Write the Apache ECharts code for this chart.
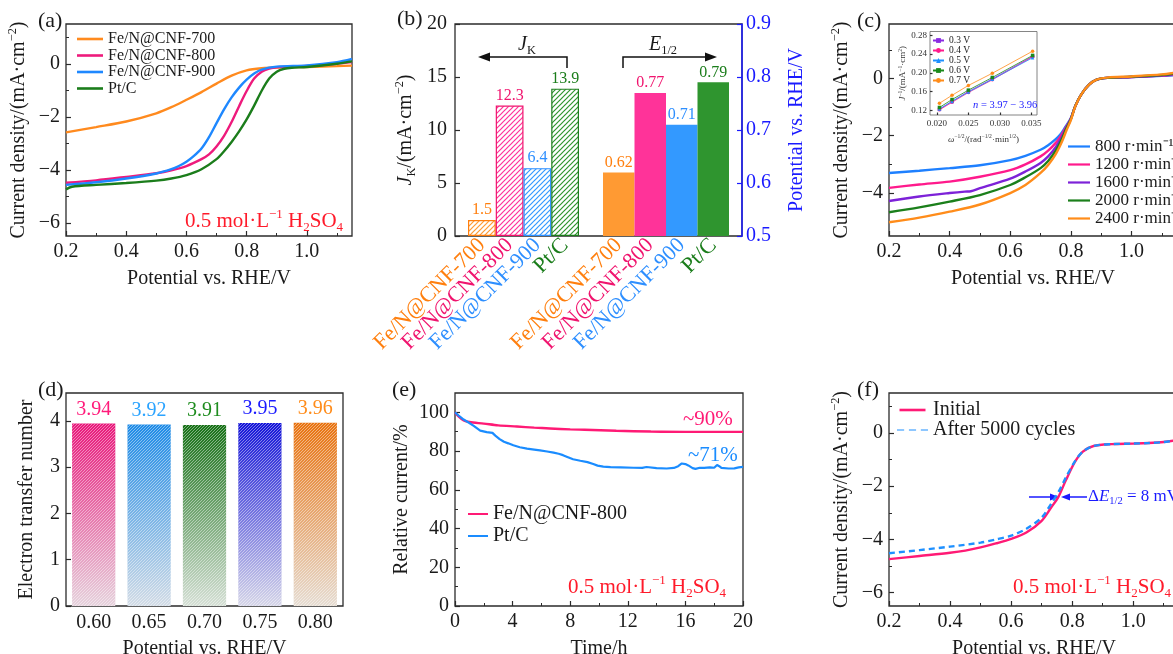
<!DOCTYPE html>
<html>
<head>
<meta charset="utf-8">
<script src="https://cdn.jsdelivr.net/npm/echarts@6/dist/echarts.min.js"></script>
<style>
  html, body { margin: 0; padding: 0; background: #fff; }
  #chart { width: 1173px; height: 654px; }
</style>
</head>
<body>
<div id="chart"></div>
<script>
const FONT = '"Liberation Serif", "Times New Roman", serif'
const TXT = '#1a1a1a'
const AX = '#2b2b2b'

// (a) LSV of the catalysts, [potential V, current density mA/cm2]
const aNames = ['Fe/N@CNF-700', 'Fe/N@CNF-800', 'Fe/N@CNF-900', 'Pt/C']
const aCnf700 = [[0.2,-2.59],[0.3,-2.39],[0.4,-2.18],[0.5,-1.87],[0.55,-1.64],[0.6,-1.36],[0.65,-1.07],[0.7,-0.75],[0.75,-0.45],[0.8,-0.25],[0.85,-0.17],[0.9,-0.14],[1.0,-0.12],[1.1,-0.09],[1.15,-0.07]]
const aCnf800 = [[0.2,-4.49],[0.3,-4.4],[0.4,-4.27],[0.5,-4.13],[0.55,-4.02],[0.6,-3.86],[0.65,-3.6],[0.675,-3.42],[0.7,-3.12],[0.725,-2.72],[0.75,-2.2],[0.775,-1.6],[0.8,-1.03],[0.825,-0.56],[0.85,-0.3],[0.875,-0.18],[0.9,-0.13],[1.0,-0.08],[1.1,0.0],[1.15,0.06]]
const aCnf900 = [[0.2,-4.57],[0.3,-4.47],[0.4,-4.33],[0.5,-4.14],[0.55,-3.98],[0.575,-3.86],[0.6,-3.7],[0.625,-3.48],[0.65,-3.2],[0.675,-2.77],[0.7,-2.24],[0.725,-1.72],[0.75,-1.27],[0.775,-0.9],[0.8,-0.6],[0.825,-0.37],[0.85,-0.22],[0.9,-0.11],[1.0,-0.06],[1.1,0.06],[1.15,0.18]]
const aPtC = [[0.2,-4.74],[0.22,-4.64],[0.3,-4.57],[0.4,-4.5],[0.5,-4.41],[0.55,-4.33],[0.6,-4.2],[0.65,-3.98],[0.7,-3.6],[0.725,-3.3],[0.75,-2.95],[0.775,-2.55],[0.8,-2.1],[0.825,-1.58],[0.85,-1.02],[0.875,-0.56],[0.9,-0.3],[0.925,-0.19],[0.95,-0.15],[1.0,-0.12],[1.1,0.0],[1.15,0.09]]

// (b) kinetic current and half-wave potential
const bNames = ['Fe/N@CNF-700', 'Fe/N@CNF-800', 'Fe/N@CNF-900', 'Pt/C']
const bJk = [1.5, 12.3, 6.4, 13.9]
const bE12 = [0.62, 0.77, 0.71, 0.79]

// (c) LSV at different rotation rates
const cNames = ['800 r·min⁻¹', '1200 r·min⁻¹', '1600 r·min⁻¹', '2000 r·min⁻¹', '2400 r·min⁻¹']
const c800 = [[0.2,-3.3],[0.3,-3.22],[0.4,-3.13],[0.5,-3.03],[0.6,-2.85],[0.65,-2.7],[0.7,-2.49],[0.725,-2.33],[0.75,-2.12],[0.765,-1.96],[0.78,-1.72],[0.8,-1.38],[0.815,-0.95],[0.835,-0.55],[0.86,-0.22],[0.885,-0.04],[0.92,0.02],[1.0,0.05],[1.1,0.09],[1.15,0.12]]
const c1200 = [[0.2,-3.82],[0.3,-3.7],[0.4,-3.6],[0.5,-3.43],[0.6,-3.2],[0.65,-3.0],[0.7,-2.72],[0.725,-2.52],[0.75,-2.25],[0.77,-1.95],[0.785,-1.68],[0.8,-1.4],[0.815,-0.95],[0.835,-0.55],[0.86,-0.22],[0.885,-0.04],[0.92,0.02],[1.0,0.05],[1.1,0.1],[1.15,0.14]]
const c1600 = [[0.2,-4.28],[0.3,-4.12],[0.4,-4.0],[0.45,-3.95],[0.47,-3.94],[0.5,-3.83],[0.6,-3.5],[0.65,-3.25],[0.7,-2.95],[0.725,-2.72],[0.75,-2.4],[0.77,-2.05],[0.785,-1.72],[0.8,-1.4],[0.815,-0.95],[0.835,-0.55],[0.86,-0.22],[0.885,-0.04],[0.92,0.02],[1.0,0.05],[1.1,0.11],[1.15,0.16]]
const c2000 = [[0.2,-4.67],[0.3,-4.5],[0.4,-4.3],[0.5,-4.07],[0.6,-3.72],[0.65,-3.45],[0.7,-3.13],[0.725,-2.88],[0.75,-2.52],[0.77,-2.12],[0.785,-1.75],[0.8,-1.42],[0.815,-0.95],[0.835,-0.55],[0.86,-0.22],[0.885,-0.04],[0.92,0.02],[1.0,0.06],[1.1,0.12],[1.15,0.18]]
const c2400 = [[0.2,-5.02],[0.3,-4.86],[0.4,-4.65],[0.5,-4.4],[0.6,-4.0],[0.65,-3.72],[0.7,-3.3],[0.725,-3.02],[0.75,-2.64],[0.77,-2.22],[0.786,-1.8],[0.8,-1.45],[0.815,-0.96],[0.835,-0.55],[0.86,-0.22],[0.885,-0.04],[0.92,0.03],[1.0,0.07],[1.1,0.14],[1.15,0.21]]

// (c) inset: Koutecky-Levich plot
const insetNames = ['0.3 V', '0.4 V', '0.5 V', '0.6 V', '0.7 V']
const insetX = [0.0204, 0.0224, 0.0250, 0.0288, 0.0352]
const inset03 = [0.122, 0.139, 0.160, 0.187, 0.235]
const inset04 = [0.121, 0.137, 0.158, 0.185, 0.234]
const inset05 = [0.123, 0.139, 0.159, 0.186, 0.232]
const inset06 = [0.126, 0.143, 0.163, 0.190, 0.237]
const inset07 = [0.135, 0.152, 0.173, 0.199, 0.246]

// (d) electron transfer number
const dPotentials = ['0.60', '0.65', '0.70', '0.75', '0.80']
const dElectrons = [3.94, 3.92, 3.91, 3.95, 3.96]

// (e) chronoamperometry, [time h, relative current %]
const eCnf800 = [[0,100],[0.3,97.5],[0.6,95.8],[1,95],[2,94.2],[3,93.3],[4.3,92.7],[5.5,92.1],[6.6,91.7],[8,91.2],[9,91],[11.2,90.5],[13.6,90.1],[16,89.9],[18,89.9],[20,89.9]]
const ePtC = [[0,100],[0.3,98],[0.6,96.3],[1,94.5],[1.3,93],[1.75,90.6],[2.2,89.8],[2.6,89.4],[2.8,88],[3.1,86.2],[3.4,84.8],[3.7,84],[4.05,83],[4.5,82],[5,81.3],[5.5,80.8],[5.9,80.4],[6.4,79.8],[6.85,79.2],[7.2,78.6],[7.5,77.9],[7.8,77],[8.2,75.8],[8.7,75],[9.2,74.3],[9.6,73.3],[9.9,72.5],[10.3,72],[10.8,71.7],[11.5,71.6],[12.4,71.4],[13,71.3],[13.3,71.8],[13.4,71],[14,71.2],[14.7,71],[15.2,71.3],[15.5,72.2],[15.75,73.6],[16.0,73.3],[16.2,72.6],[16.5,71.2],[16.7,70.8],[17,71.4],[17.3,71.3],[17.7,71.6],[18,71.4],[18.2,72.8],[18.35,72.2],[18.5,71.3],[19,71.0],[19.4,71.1],[19.7,71.6],[20,71.8]]

// (f) accelerated durability test
const fInitial = [[0.2,-4.74],[0.3,-4.62],[0.4,-4.5],[0.45,-4.42],[0.5,-4.3],[0.55,-4.15],[0.6,-3.98],[0.65,-3.74],[0.7,-3.3],[0.73,-2.82],[0.755,-2.4],[0.78,-1.76],[0.81,-1.07],[0.835,-0.7],[0.87,-0.49],[0.93,-0.42],[1.0,-0.4],[1.05,-0.38],[1.1,-0.34],[1.15,-0.26]]
const fAfter = [[0.2,-4.52],[0.3,-4.4],[0.4,-4.27],[0.5,-4.12],[0.55,-4.0],[0.6,-3.86],[0.65,-3.6],[0.7,-3.18],[0.73,-2.68],[0.755,-2.22],[0.78,-1.66],[0.81,-1.05],[0.835,-0.7],[0.87,-0.49],[0.93,-0.42],[1.0,-0.4],[1.05,-0.38],[1.1,-0.34],[1.15,-0.26]]

// colours
const aColors = ['#ff8a1e', '#ee1a7c', '#1e88ff', '#1b7d1b']
const bText = ['#ff7f0e', '#f0146e', '#2e8fff', '#1b7d1b']
const bFill = ['#ff9a33', '#ff3399', '#3399ff', '#2f952f']
const cColors = ['#1e80ff', '#ff1a8c', '#7d22d8', '#1b7f1b', '#ff8c1a']
const insetColors = ['#8a2be2', '#ff1a8c', '#1e90ff', '#1b8a1b', '#ff8c1a']
const insetSymbols = ['rect', 'circle', 'triangle', 'rect', 'circle']
const dTop = ['#e8177a', '#1e8be6', '#167016', '#1414d8', '#e8720f']
const dPale = ['#e6d3dd', '#d3dce6', '#d6e0d6', '#d6d6e8', '#e6ddd3']
const dText = ['#ff1a7a', '#2aa3ff', '#1e8c1e', '#1a1aff', '#ff8c1a']
const RED = '#ff1a2a'
const BLUE = '#1a1aff'

const fmtNeg = v => (v < 0 ? '−' : '') + Math.abs(v)
const fmt1 = v => v.toFixed(1)

function rich (size, color) {
  return {
    n: { fontFamily: FONT, fontSize: size, color, lineHeight: size * 1.2 },
    i: { fontFamily: FONT, fontSize: size, color, fontStyle: 'italic', lineHeight: size * 1.2 },
    sub: { fontFamily: FONT, fontSize: size * 0.62, color, verticalAlign: 'bottom', lineHeight: size * 0.75 },
    sup: { fontFamily: FONT, fontSize: size * 0.62, color, verticalAlign: 'top', lineHeight: size * 0.75 }
  }
}

const xAxes = []
const yAxes = []
// value axis with inside ticks; optional minor ticks drawn by an overlay axis
function valueAxis (list, o) {
  const color = o.color || AX
  list.push({
    type: 'value', gridIndex: o.grid, position: o.pos, min: o.min, max: o.max,
    axisLine: { show: !!o.line, onZero: false, lineStyle: { color, width: 1.5 } },
    axisTick: { show: true, inside: true, length: o.tick || 5, customValues: o.major, lineStyle: { color, width: 1.2 } },
    axisLabel: { customValues: o.major, formatter: o.fmt, fontFamily: FONT, fontSize: o.fs || 20, color: o.color || TXT, margin: o.margin == null ? 6 : o.margin },
    splitLine: { show: false },
    name: o.name, nameLocation: 'middle', nameGap: o.nameGap,
    nameTextStyle: { rich: o.nameRich },
    startValue: o.startValue
  })
  const idx = list.length - 1
  if (o.minor) {
    list.push({
      type: 'value', gridIndex: o.grid, position: o.pos, min: o.min, max: o.max,
      axisLine: { show: false, onZero: false },
      axisTick: { show: true, inside: true, length: (o.tick || 5) * 0.6, customValues: o.minor, lineStyle: { color, width: 1 } },
      axisLabel: { show: false }, splitLine: { show: false }
    })
  }
  return idx
}

const frame = { show: true, borderColor: '#2b2b2b', borderWidth: 1.3, outerBoundsMode: 'none' }
const grid = [
  Object.assign({ left: 66, top: 24, width: 286, height: 212 }, frame),
  Object.assign({ left: 455, top: 24, width: 287, height: 212 }, frame),
  { left: 468, top: 24, width: 111, height: 212, outerBoundsMode: 'none' },
  { left: 603, top: 24, width: 126, height: 212, outerBoundsMode: 'none' },
  Object.assign({ left: 889, top: 24, width: 288, height: 212 }, frame),
  { left: 930, top: 31.5, width: 107, height: 83.5, show: true, backgroundColor: '#fff', borderColor: '#666', borderWidth: 0.8, outerBoundsMode: 'none' },
  Object.assign({ left: 66, top: 393, width: 277, height: 213 }, frame),
  Object.assign({ left: 455, top: 393, width: 288, height: 213 }, frame),
  Object.assign({ left: 889, top: 393, width: 290, height: 213 }, frame)
]

const potName = '{n|Potential vs. RHE/V}'
const jName = '{n|Current density/(mA·cm}{sup|−2}{n|)}'
const potTicks = [0.2, 0.4, 0.6, 0.8, 1.0]
const potMinor = [0.3, 0.5, 0.7, 0.9, 1.1]

// (a)
const axA = valueAxis(xAxes, { grid: 0, pos: 'bottom', min: 0.2, max: 1.15, major: potTicks, minor: potMinor, fmt: fmt1, name: potName, nameGap: 31, nameRich: rich(20, TXT) })
const ayA = valueAxis(yAxes, { grid: 0, pos: 'left', min: -6.5, max: 1.5, major: [-6, -4, -2, 0], minor: [-5, -3, -1, 1], fmt: fmtNeg, name: jName, nameGap: 35, nameRich: rich(20, TXT) })

// (b) frame with both value axes
xAxes.push({ type: 'value', gridIndex: 1, min: 0, max: 1, show: false })
const ayB = valueAxis(yAxes, { grid: 1, pos: 'left', min: 0, max: 20, major: [0, 5, 10, 15, 20], fmt: v => String(v), margin: 8, name: '{i|J}{sub|K}{n|/(mA·cm}{sup|−2}{n|)}', nameGap: 37, nameRich: rich(20, TXT) })
valueAxis(yAxes, { grid: 1, pos: 'right', min: 0.5, max: 0.9, major: [0.5, 0.6, 0.7, 0.8, 0.9], fmt: fmt1, color: BLUE, line: true, margin: 4, name: '{n|Potential vs. RHE/V}', nameGap: 43, nameRich: rich(20, BLUE) })
function barCatAxis (g) {
  return {
    type: 'category', gridIndex: g, data: bNames,
    axisLine: { show: false, onZero: false }, axisTick: { show: false },
    axisLabel: { interval: 0, rotate: 45, margin: 6, fontFamily: FONT, fontSize: 22, color: (v, i) => bText[i] }
  }
}
xAxes.push(barCatAxis(2)); const axBk = xAxes.length - 1
yAxes.push({ type: 'value', gridIndex: 2, min: 0, max: 20, show: false }); const ayBk = yAxes.length - 1
xAxes.push(barCatAxis(3)); const axBe = xAxes.length - 1
yAxes.push({ type: 'value', gridIndex: 3, min: 0.5, max: 0.9, startValue: 0.5, show: false }); const ayBe = yAxes.length - 1

// (c)
const axC = valueAxis(xAxes, { grid: 4, pos: 'bottom', min: 0.2, max: 1.15, major: potTicks, minor: potMinor, fmt: fmt1, name: potName, nameGap: 31, nameRich: rich(20, TXT) })
const ayC = valueAxis(yAxes, { grid: 4, pos: 'left', min: -5.5, max: 1.9, major: [-4, -2, 0], minor: [-5, -3, -1, 1], fmt: fmtNeg, name: jName, nameGap: 35, nameRich: rich(20, TXT) })
// (c) inset
const axI = valueAxis(xAxes, { grid: 5, pos: 'bottom', min: 0.0189, max: 0.0359, major: [0.020, 0.025, 0.030, 0.035], fmt: v => v.toFixed(3), fs: 9, tick: 2.5, margin: 4, color: '#333', name: '{i|ω}{sup|−1/2}{n|/(rad}{sup|−1/2}{n|·min}{sup|1/2}{n|)}', nameGap: 19, nameRich: rich(9, '#333') })
const ayI = valueAxis(yAxes, { grid: 5, pos: 'left', min: 0.11, max: 0.288, major: [0.12, 0.16, 0.20, 0.24, 0.28], fmt: v => v.toFixed(2), fs: 9, tick: 2.5, margin: 3, color: '#333', name: '{i|J}{sup|−1}{n|/(mA}{sup|−1}{n|·cm}{sup|2}{n|)}', nameGap: 20, nameRich: rich(9, '#333') })

// (d)
xAxes.push({
  type: 'category', gridIndex: 6, data: dPotentials,
  axisLine: { show: false, onZero: false }, axisTick: { show: false },
  axisLabel: { fontFamily: FONT, fontSize: 20, color: TXT, margin: 7 },
  name: potName, nameLocation: 'middle', nameGap: 31, nameTextStyle: { rich: rich(20, TXT) }
})
const axD = xAxes.length - 1
const ayD = valueAxis(yAxes, { grid: 6, pos: 'left', min: 0, max: 4.6, major: [0, 1, 2, 3, 4], fmt: v => String(v), name: '{n|Electron transfer number}', nameGap: 27, nameRich: rich(20, TXT) })

// (e)
const axE = valueAxis(xAxes, { grid: 7, pos: 'bottom', min: 0, max: 20, major: [0, 4, 8, 12, 16, 20], minor: [2, 6, 10, 14, 18], fmt: v => String(v), name: '{n|Time/h}', nameGap: 31, nameRich: rich(20, TXT) })
const ayE = valueAxis(yAxes, { grid: 7, pos: 'left', min: 0, max: 110, major: [0, 20, 40, 60, 80, 100], minor: [10, 30, 50, 70, 90], fmt: v => String(v), name: '{n|Relative current/%}', nameGap: 41, nameRich: rich(20, TXT) })

// (f)
const axF = valueAxis(xAxes, { grid: 8, pos: 'bottom', min: 0.2, max: 1.15, major: potTicks, minor: potMinor, fmt: fmt1, name: potName, nameGap: 31, nameRich: rich(20, TXT) })
const ayF = valueAxis(yAxes, { grid: 8, pos: 'left', min: -6.5, max: 1.5, major: [-6, -4, -2, 0], minor: [-5, -3, -1, 1], fmt: fmtNeg, name: jName, nameGap: 35, nameRich: rich(20, TXT) })

function curve (name, data, color, xi, yi, extra) {
  return Object.assign({
    type: 'line', name, data, xAxisIndex: xi, yAxisIndex: yi,
    showSymbol: false, symbol: 'none', smooth: 0.3,
    lineStyle: { color, width: 2.4 }, itemStyle: { color }, silent: true
  }, extra || {})
}

// diagonal hatch tile: "/" lines on an optional background
function hatch (color, bg, size, width) {
  const s = size || 5
  const cv = document.createElement('canvas')
  cv.width = cv.height = s
  const g = cv.getContext('2d')
  if (bg) { g.fillStyle = bg; g.fillRect(0, 0, s, s) }
  g.strokeStyle = color
  g.lineWidth = width || 1.1
  ;[[-1, s + 1, s + 1, -1], [-1, 1, 1, -1], [s - 1, s + 1, s + 1, s - 1]].forEach(([x1, y1, x2, y2]) => {
    g.beginPath(); g.moveTo(x1, y1); g.lineTo(x2, y2); g.stroke()
  })
  return cv
}

const barLabel = { show: true, position: 'top', distance: 2, fontFamily: FONT, fontSize: 16 }

const series = [
  ...[aCnf700, aCnf800, aCnf900, aPtC].map((d, i) => curve(aNames[i], d, aColors[i], axA, ayA)),
  {
    type: 'bar', name: 'jk', xAxisIndex: axBk, yAxisIndex: ayBk, barWidth: '100%', silent: true,
    data: bJk.map((v, i) => ({ value: v, itemStyle: { color: { image: hatch(bFill[i], '#fff', 5, 1.2), repeat: 'repeat' }, borderColor: bText[i], borderWidth: 1.2 }, label: { color: bText[i] } })),
    label: Object.assign({ formatter: p => p.value.toFixed(1) }, barLabel)
  },
  {
    type: 'bar', name: 'e12', xAxisIndex: axBe, yAxisIndex: ayBe, barWidth: '100%', silent: true,
    data: bE12.map((v, i) => ({ value: v, itemStyle: { color: bFill[i] }, label: { color: bText[i] } })),
    label: Object.assign({ formatter: p => p.value.toFixed(2) }, barLabel)
  },
  ...[c800, c1200, c1600, c2000, c2400].map((d, i) => curve(cNames[i], d, cColors[i], axC, ayC)),
  ...[inset03, inset04, inset05, inset06, inset07].map((d, i) => ({
    type: 'line', name: insetNames[i], xAxisIndex: axI, yAxisIndex: ayI, silent: true,
    data: insetX.map((x, k) => [x, d[k]]),
    symbol: insetSymbols[i], symbolSize: 3.5, showSymbol: true,
    lineStyle: { color: insetColors[i], width: 0.8 }, itemStyle: { color: insetColors[i] }
  })),
  {
    type: 'bar', name: 'n', xAxisIndex: axD, yAxisIndex: ayD, barWidth: '78%', silent: true,
    data: dElectrons.map((v, i) => ({
      value: v,
      itemStyle: { color: new echarts.graphic.LinearGradient(0, 0, 0, 1, [{ offset: 0, color: dTop[i] }, { offset: 1, color: dPale[i] }]) },
      label: { color: dText[i] }
    })),
    label: { show: true, position: 'top', distance: 4, fontFamily: FONT, fontSize: 20, formatter: p => p.value.toFixed(2) }
  },
  {
    // fine hatching laid over the gradient bars
    type: 'bar', name: 'n-hatch', xAxisIndex: axD, yAxisIndex: ayD, barWidth: '78%', barGap: '-100%', silent: true,
    itemStyle: { color: { image: hatch('rgba(255,255,255,0.55)', null, 3, 0.8), repeat: 'repeat' } },
    data: dElectrons
  },
  curve('Fe/N@CNF-800\u200b', eCnf800, '#ff1a75', axE, ayE),
  curve('Pt/C\u200b', ePtC, '#1a8cff', axE, ayE, { smooth: false, lineStyle: { color: '#1a8cff', width: 2.2 } }),
  curve('Initial', fInitial, '#ff1a75', axF, ayF),
  curve('After 5000 cycles', fAfter, '#1e90ff', axF, ayF, { lineStyle: { color: '#1e90ff', width: 2.4, type: [6, 4] } })
]

const lineIcon = 'path://M0,0H10V1H0Z'
const dashIcon = 'path://M0,0H6V1H0ZM10,0H16V1H10ZM20,0H26V1H20Z'
function legend (o) {
  return {
    data: o.data, left: o.left, top: o.top, orient: 'vertical', padding: 0,
    itemWidth: o.w, itemHeight: o.h || 2.6, itemGap: o.gap, selectedMode: false,
    icon: o.icon,
    textStyle: { fontFamily: FONT, fontSize: o.fs, color: TXT, lineHeight: o.lh }
  }
}

const legends = [
  legend({ data: aNames, left: 77, top: 31, w: 26, gap: 0.5, fs: 16, lh: 16, icon: lineIcon }),
  legend({ data: cNames, left: 1068, top: 138, w: 22, gap: 1, fs: 17, lh: 17, icon: lineIcon }),
  legend({ data: insetNames, left: 932, top: 35.5, w: 11, h: 6, gap: 0, fs: 9.5, lh: 9.2 }),
  legend({ data: ['Fe/N@CNF-800\u200b', 'Pt/C\u200b'], left: 468, top: 504, w: 20, gap: 2, fs: 20, lh: 20, icon: lineIcon }),
  legend({ data: [{ name: 'Initial', icon: lineIcon }, { name: 'After 5000 cycles', icon: dashIcon }], left: 897, top: 400, w: 31, gap: 0, fs: 20, lh: 18 })
]

function label (text, x, y, size, color, align) {
  return { type: 'text', x, y, silent: true, style: { text, rich: rich(size, color), align: align || 'left', verticalAlign: 'middle', fill: color, font: size + 'px ' + FONT } }
}
function line (points, color) {
  return { type: 'polyline', silent: true, shape: { points }, style: { stroke: color, lineWidth: 1.5, fill: null } }
}
function head (points, color) {
  return { type: 'polygon', silent: true, shape: { points }, style: { fill: color } }
}
const red = '{n|0.5 mol·L}{sup|−1}{n| H}{sub|2}{n|SO}{sub|4}'

const graphic = [
  label('{n|(a)}', 38, 21, 22, TXT),
  label('{n|(b)}', 397, 19, 22, TXT),
  label('{n|(c)}', 857, 21, 22, TXT),
  label('{n|(d)}', 38, 390, 22, TXT),
  label('{n|(e)}', 392, 390, 22, TXT),
  label('{n|(f)}', 857, 390, 22, TXT),
  label(red, 185, 221, 21, RED),
  label(red, 568, 587, 21, RED),
  label(red, 1013, 587, 21, RED),
  label('{i|J}{sub|K}', 527, 45, 20, TXT, 'center'),
  label('{i|E}{sub|1/2}', 663, 45, 20, TXT, 'center'),
  line([[488, 57], [567, 57], [567, 68]], '#111'),
  head([[478, 57], [490, 52.5], [490, 61.5]], '#111'),
  line([[623, 68], [623, 57], [707, 57]], '#111'),
  head([[717, 57], [705, 52.5], [705, 61.5]], '#111'),
  label('{n|~90%}', 683, 419, 21, '#ff1a75'),
  label('{n|~71%}', 688, 455, 21, '#1a8cff'),
  line([[1029, 497], [1052, 497]], BLUE),
  head([[1059, 497], [1050, 493.5], [1050, 500.5]], BLUE),
  line([[1087, 497], [1068, 497]], BLUE),
  head([[1061, 497], [1070, 493.5], [1070, 500.5]], BLUE),
  label('{n|Δ}{i|E}{sub|1/2}{n| = 8 mV}', 1088, 497, 17, BLUE),
  label('{i|n}{n| = 3.97 − 3.96}', 973, 105, 10.5, BLUE)
]

const chart = echarts.init(document.getElementById('chart'), null, { renderer: 'canvas' })
chart.setOption({
  backgroundColor: '#fff',
  animation: false,
  grid,
  xAxis: xAxes,
  yAxis: yAxes,
  legend: legends,
  series,
  graphic
})
</script>
</body>
</html>
